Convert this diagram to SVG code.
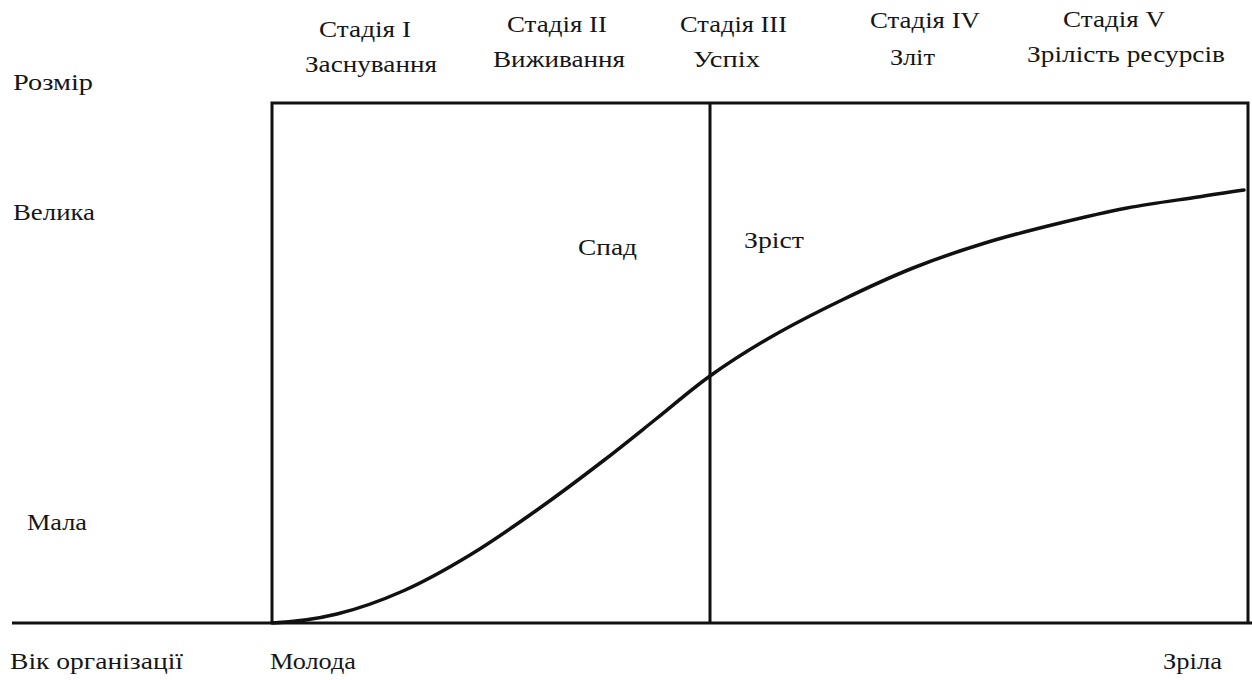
<svg xmlns="http://www.w3.org/2000/svg" width="1252" height="680" viewBox="0 0 1252 680">
<style>
  text { font-family: "Liberation Serif", "Times New Roman", serif; font-size: 23px; fill: #161616; }
  .frame { fill: none; stroke: #111; stroke-width: 3; }
  .curve { fill: none; stroke: #111; stroke-width: 3.5; stroke-linecap: round; stroke-linejoin: round; }
</style>
<rect width="1252" height="680" fill="#ffffff"/>
<g id="axes">
  <line class="frame" x1="12" y1="623" x2="1252" y2="623"/>
  <polyline class="frame" points="272,623 272,103 1248,103 1248,623"/>
  <line class="frame" x1="710" y1="103" x2="710" y2="623"/>
</g>
<g id="connectors">
  <path class="curve" d="M272,623 C294,622 315.2,619.3 337,614 C358.8,608.7 380.8,600.8 403,591 C425.2,581.2 447.7,568.5 470,555 C492.3,541.5 514.8,525.7 537,510 C559.2,494.3 583.2,476.2 603,461 C622.8,445.8 638.2,433.2 656,419 C673.8,404.8 690.8,389.7 710,376 C729.2,362.3 749,349.7 771,337 C793,324.3 818.3,311.5 842,300 C865.7,288.5 889.2,277.5 913,268 C936.8,258.5 961.2,250.3 985,243 C1008.8,235.7 1032.3,229.8 1056,224 C1079.7,218.2 1103.3,212.5 1127,208 C1150.7,203.5 1178.5,200 1198,197 C1217.5,194 1228.7,192 1244,190"/>
</g>
<g id="stage1">
  <text x="319" y="37" textLength="92" lengthAdjust="spacingAndGlyphs">Стадія I</text>
  <text x="305" y="72" textLength="132" lengthAdjust="spacingAndGlyphs">Заснування</text>
</g>
<g id="stage2">
  <text x="507" y="32" textLength="100" lengthAdjust="spacingAndGlyphs">Стадія II</text>
  <text x="493" y="67" textLength="132" lengthAdjust="spacingAndGlyphs">Виживання</text>
</g>
<g id="stage3">
  <text x="680" y="32" textLength="107" lengthAdjust="spacingAndGlyphs">Стадія III</text>
  <text x="693" y="67" textLength="67" lengthAdjust="spacingAndGlyphs">Успіх</text>
</g>
<g id="stage4">
  <text x="870" y="28" textLength="110" lengthAdjust="spacingAndGlyphs">Стадія IV</text>
  <text x="890" y="65" textLength="45" lengthAdjust="spacingAndGlyphs">Зліт</text>
</g>
<g id="stage5">
  <text x="1063" y="27" textLength="102" lengthAdjust="spacingAndGlyphs">Стадія V</text>
  <text x="1027" y="62" textLength="198" lengthAdjust="spacingAndGlyphs">Зрілість ресурсів</text>
</g>
<g id="y-axis-labels">
  <text x="13" y="90" textLength="80" lengthAdjust="spacingAndGlyphs">Розмір</text>
  <text x="13" y="220" textLength="82" lengthAdjust="spacingAndGlyphs">Велика</text>
  <text x="27" y="530" textLength="60" lengthAdjust="spacingAndGlyphs">Мала</text>
</g>
<g id="x-axis-labels">
  <text x="10" y="669" textLength="173" lengthAdjust="spacingAndGlyphs">Вік організації</text>
  <text x="270" y="669" textLength="86" lengthAdjust="spacingAndGlyphs">Молода</text>
  <text x="1163" y="669" textLength="59" lengthAdjust="spacingAndGlyphs">Зріла</text>
</g>
<g id="zone-labels">
  <text x="578" y="255" textLength="59" lengthAdjust="spacingAndGlyphs">Спад</text>
  <text x="744" y="248" textLength="60" lengthAdjust="spacingAndGlyphs">Зріст</text>
</g>
</svg>
